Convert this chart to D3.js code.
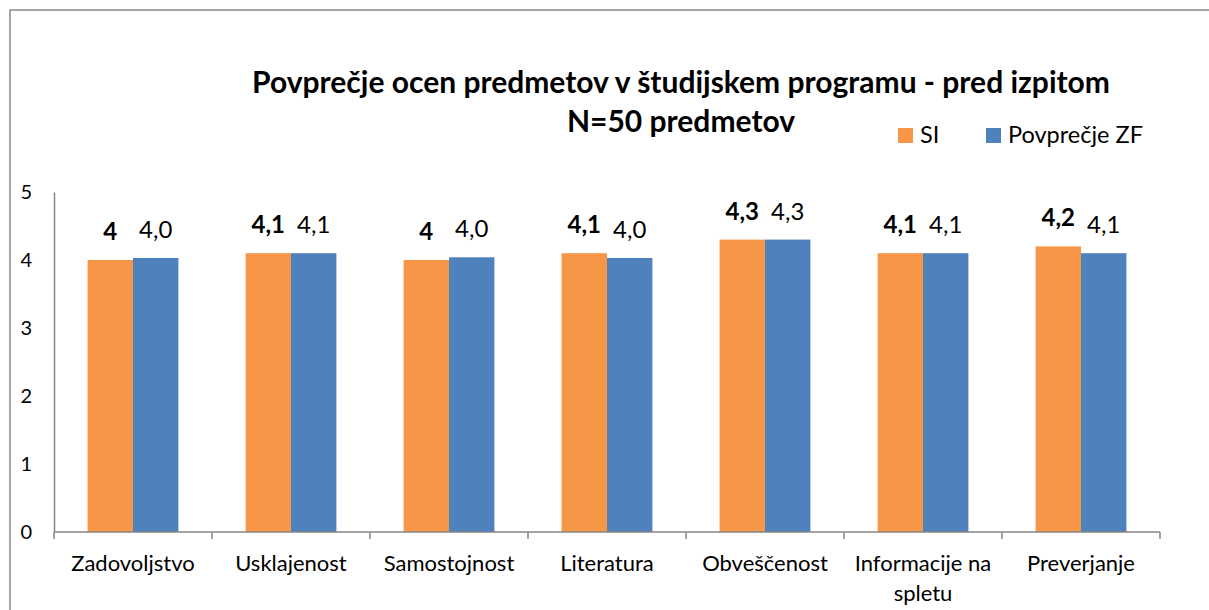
<!DOCTYPE html>
<html>
<head>
<meta charset="utf-8">
<script src="https://cdn.jsdelivr.net/npm/d3@7"></script>
<style>
  body { margin: 0; background: #fff; }
  svg { font-family: Lato, "Open Sans", sans-serif; }
</style>
</head>
<body>
<div id="chart"></div>
<script>
const categories = ["Zadovoljstvo", "Usklajenost", "Samostojnost", "Literatura", "Obveščenost", "Informacije na spletu", "Preverjanje"];
const seriesNames = ["SI", "Povprečje ZF"];
const siValues = [4.0, 4.1, 4.0, 4.1, 4.3, 4.1, 4.2];
const zfValues = [4.03, 4.1, 4.04, 4.03, 4.3, 4.1, 4.1];
const siLabels = ["4", "4,1", "4", "4,1", "4,3", "4,1", "4,2"];
const zfLabels = ["4,0", "4,1", "4,0", "4,0", "4,3", "4,1", "4,1"];
const yTicks = [0, 1, 2, 3, 4, 5];

const width = 1209, height = 610;
const margin = { top: 192, left: 54, right: 49, bottom: 78 };
const colors = { "SI": "#F79646", "Povprečje ZF": "#4F81BD" };

const svg = d3.select("#chart").append("svg")
    .attr("width", width)
    .attr("height", height);

// outer chart border (right/bottom edges fall outside the picture)
svg.append("rect")
    .attr("x", 10).attr("y", 10)
    .attr("width", 1220).attr("height", 640)
    .attr("fill", "none")
    .attr("stroke", "#898989")
    .attr("stroke-width", 1.5);

const x0 = d3.scaleBand()
    .domain(categories)
    .range([margin.left, width - margin.right])
    .padding(0);

const x1 = d3.scaleBand()
    .domain(seriesNames)
    .range([0, x0.bandwidth()])
    .paddingInner(0)
    .paddingOuter(0.74);

const y = d3.scaleLinear()
    .domain([0, 5])
    .range([height - margin.bottom, margin.top]);

// title
const title = svg.append("text")
    .attr("x", 681)
    .attr("text-anchor", "middle")
    .attr("font-weight", "bold")
    .attr("font-size", 30)
    .attr("fill", "#000");
title.append("tspan").attr("x", 681).attr("y", 93).text("Povprečje ocen predmetov v študijskem programu - pred izpitom");
title.append("tspan").attr("x", 681).attr("y", 132).text("N=50 predmetov");

// legend
const legend = svg.append("g").attr("transform", "translate(898,128)");
const legendX = [0, 88];
seriesNames.forEach((s, i) => {
    const row = legend.append("g").attr("transform", `translate(${legendX[i]},0)`);
    row.append("rect").attr("width", 15).attr("height", 15).attr("fill", colors[s]);
    row.append("text").attr("x", 22).attr("y", 15)
        .attr("font-size", 23.5).attr("fill", "#000").text(s);
});

// y axis
const yAxis = svg.append("g")
    .attr("transform", `translate(${margin.left},0)`)
    .call(d3.axisLeft(y).tickValues(yTicks).tickFormat(d3.format("d")).tickSize(0).tickPadding(22));
yAxis.select(".domain").attr("stroke", "#868686").attr("stroke-width", 1.5);
yAxis.selectAll("text").attr("font-size", 20).attr("fill", "#000").attr("font-family", "Lato, sans-serif");

// bars
const groups = svg.append("g").selectAll("g")
    .data(categories)
    .join("g")
    .attr("transform", d => `translate(${x0(d)},0)`);

const rows = categories.map((c, i) => [
    { key: "SI", value: siValues[i], label: siLabels[i], bold: true },
    { key: "Povprečje ZF", value: zfValues[i], label: zfLabels[i], bold: false }
]);

groups.selectAll("rect")
    .data((d, i) => rows[i])
    .join("rect")
    .attr("x", d => x1(d.key))
    .attr("y", d => y(d.value))
    .attr("width", x1.bandwidth())
    .attr("height", d => y(0) - y(d.value))
    .attr("fill", d => colors[d.key]);

groups.selectAll("text.val")
    .data((d, i) => rows[i])
    .join("text")
    .attr("class", "val")
    .attr("x", d => x1(d.key) + x1.bandwidth() / 2)
    .attr("y", d => y(d.value) - 20)
    .attr("text-anchor", "middle")
    .attr("font-size", 24)
    .attr("font-weight", d => d.bold ? "bold" : "normal")
    .attr("fill", "#000")
    .text(d => d.label);

// x axis
const xAxis = svg.append("g")
    .attr("transform", `translate(0,${y(0)})`);
xAxis.append("line")
    .attr("x1", margin.left).attr("x2", width - margin.right)
    .attr("stroke", "#868686").attr("stroke-width", 1.5);
xAxis.selectAll("line.tick")
    .data(categories.concat([null]))
    .join("line")
    .attr("class", "tick")
    .attr("x1", (d, i) => margin.left + i * x0.step())
    .attr("x2", (d, i) => margin.left + i * x0.step())
    .attr("y1", 0).attr("y2", 7)
    .attr("stroke", "#868686").attr("stroke-width", 1.5);

// category labels, wrapped like the original
const wrapped = { "Informacije na spletu": ["Informacije na", "spletu"] };
xAxis.selectAll("text.cat")
    .data(categories)
    .join("text")
    .attr("class", "cat")
    .attr("text-anchor", "middle")
    .attr("font-size", 22)
    .attr("fill", "#000")
    .each(function(d) {
        const lines = wrapped[d] || [d];
        const t = d3.select(this);
        lines.forEach((ln, j) => {
            t.append("tspan")
                .attr("x", x0(d) + x0.bandwidth() / 2)
                .attr("y", 39 + j * 30)
                .text(ln);
        });
    });
</script>
</body>
</html>
